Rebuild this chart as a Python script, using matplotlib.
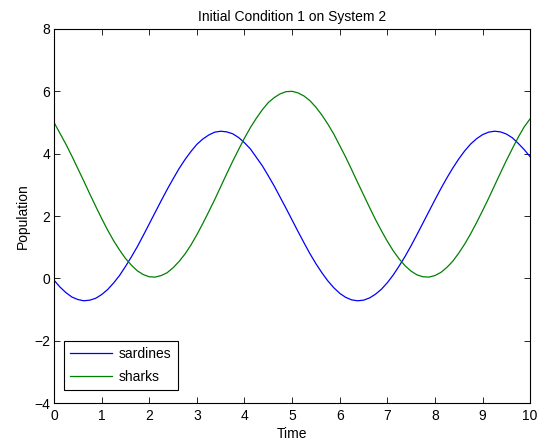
import numpy as np
import matplotlib
matplotlib.use("Agg")
import matplotlib.pyplot as plt

# values at 0.125 time steps
time = np.arange(81) * 0.125
sardines = [-0.06, -0.28, -0.46, -0.60, -0.68, -0.72, -0.70, -0.64, -0.52, -0.36,
            -0.15, 0.09, 0.38, 0.69, 1.02, 1.38, 1.75, 2.12, 2.49, 2.85,
            3.19, 3.52, 3.81, 4.07, 4.30, 4.47, 4.60, 4.69, 4.72, 4.70,
            4.64, 4.52, 4.35, 4.15, 3.88, 3.61, 3.29, 2.96, 2.60, 2.24,
            1.87, 1.50, 1.14, 0.79, 0.47, 0.18, -0.08, -0.30, -0.48, -0.61,
            -0.69, -0.72, -0.70, -0.63, -0.51, -0.35, -0.14, 0.11, 0.40, 0.71,
            1.05, 1.41, 1.78, 2.15, 2.52, 2.88, 3.22, 3.54, 3.83, 4.09,
            4.31, 4.48, 4.61, 4.69, 4.72, 4.70, 4.63, 4.51, 4.33, 4.13,
            3.90]
sharks = [5.00, 4.65, 4.30, 3.92, 3.52, 3.12, 2.71, 2.31, 1.92, 1.55,
          1.21, 0.91, 0.64, 0.42, 0.24, 0.12, 0.05, 0.04, 0.09, 0.18,
          0.34, 0.54, 0.78, 1.07, 1.40, 1.76, 2.14, 2.53, 2.94, 3.35,
          3.75, 4.13, 4.50, 4.84, 5.14, 5.41, 5.64, 5.80, 5.92, 5.99,
          6.00, 5.95, 5.85, 5.70, 5.49, 5.24, 4.95, 4.63, 4.26, 3.89,
          3.49, 3.08, 2.68, 2.28, 1.89, 1.53, 1.19, 0.88, 0.62, 0.40,
          0.23, 0.11, 0.05, 0.04, 0.09, 0.19, 0.35, 0.55, 0.81, 1.10,
          1.43, 1.79, 2.17, 2.56, 2.97, 3.38, 3.78, 4.16, 4.53, 4.86,
          5.12]

plt.rcParams["font.family"] = ["Liberation Sans", "DejaVu Sans"]
plt.rcParams["font.size"] = 10

fig = plt.figure(figsize=(5.46, 4.44), dpi=100)
ax = fig.add_axes([0.099, 0.0923, 0.872, 0.8424])

ax.plot(time, sardines, color="#0000ff", lw=0.9, label="sardines")
ax.plot(time, sharks, color="#008000", lw=0.9, label="sharks")

ax.set_xlim(0, 10)
ax.set_ylim(-4, 8)
ax.set_xticks(range(0, 11))
ax.set_yticks(range(-4, 9, 2))
ax.tick_params(direction="in", top=True, right=True, length=4, width=0.6)
ax.tick_params(axis="x", pad=4)
ax.tick_params(axis="y", pad=3)
for sp in ax.spines.values():
    sp.set_linewidth(0.8)

ax.set_title("Initial Condition 1 on System 2", fontsize=10, pad=6)
ax.set_xlabel("Time", labelpad=3)
ax.set_ylabel("Population", labelpad=3)

leg = ax.legend(loc="lower left", bbox_to_anchor=(0.021, 0.035), borderaxespad=0,
                fancybox=False, edgecolor="black", framealpha=1, handlelength=3.0,
                borderpad=0.45, labelspacing=0.6, handletextpad=0.5)
leg.get_frame().set_linewidth(0.8)

fig.savefig("out.png", dpi=100)
